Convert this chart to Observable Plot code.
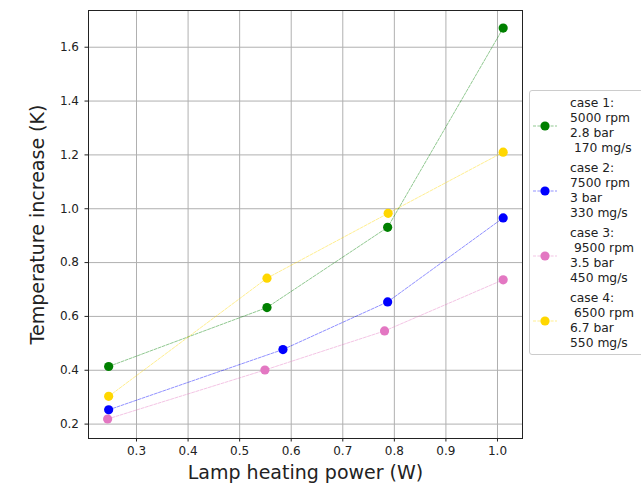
<!DOCTYPE html>
<html>
<head>
<meta charset="utf-8">
<script src="https://cdn.jsdelivr.net/npm/d3@7"></script>
<script src="https://cdn.jsdelivr.net/npm/@observablehq/plot@0.6"></script>
<style>
  html, body { margin: 0; padding: 0; background: white; overflow: hidden; }
  #wrap { position: relative; width: 641px; height: 484px; }
  #legend {
    position: absolute; left: 529px; top: 90px; width: 130px; height: 265px;
    border: 1px solid #cccccc; border-radius: 3px; background: rgba(255,255,255,0.85);
    font-family: "DejaVu Sans"; font-size: 12.3px; color: #222; box-sizing: border-box;
  }
  .entry { position: absolute; left: 0; height: 60px; width: 130px; }
  .entry svg { position: absolute; left: 2px; }
  .entry .txt { position: absolute; left: 40px; top: 0; white-space: pre; line-height: 15px; }
</style>
</head>
<body>
<div id="wrap"></div>
<script>
const cases = ["case 1", "case 2", "case 3", "case 4"];
const legendLabels = [
  "case 1:\n5000 rpm\n2.8 bar\n 170 mg/s",
  "case 2:\n7500 rpm\n3 bar\n330 mg/s",
  "case 3:\n 9500 rpm\n3.5 bar\n450 mg/s",
  "case 4:\n 6500 rpm\n6.7 bar\n550 mg/s"
];
const colors = ["green", "blue", "#e377c2", "gold"];

const power1 = [0.246, 0.553, 0.787, 1.011];
const temp1  = [0.414, 0.633, 0.931, 1.671];
const power2 = [0.246, 0.584, 0.787, 1.011];
const temp2  = [0.253, 0.477, 0.654, 0.966];
const power3 = [0.244, 0.549, 0.781, 1.011];
const temp3  = [0.219, 0.401, 0.546, 0.736];
const power4 = [0.246, 0.553, 0.788, 1.011];
const temp4  = [0.303, 0.742, 0.983, 1.210];

const xTicks = [0.3, 0.4, 0.5, 0.6, 0.7, 0.8, 0.9, 1.0];
const yTicks = [0.2, 0.4, 0.6, 0.8, 1.0, 1.2, 1.4, 1.6];

const powers = [power1, power2, power3, power4];
const temps = [temp1, temp2, temp3, temp4];
const rows = [];
cases.forEach((c, i) => powers[i].forEach((p, j) => rows.push({case: c, power: p, temp: temps[i][j]})));

const chart = Plot.plot({
  width: 641, height: 484,
  marginLeft: 88, marginRight: 119, marginTop: 10, marginBottom: 46,
  style: {fontFamily: "DejaVu Sans", fontSize: "12px", background: "white", color: "#222"},
  x: {domain: [0.2069, 1.0485], label: null},
  y: {domain: [0.1465, 1.7364], label: null},
  color: {domain: cases, range: colors},
  marks: [
    Plot.gridX(xTicks, {stroke: "#b0b0b0", strokeOpacity: 1, strokeWidth: 1}),
    Plot.gridY(yTicks, {stroke: "#b0b0b0", strokeOpacity: 1, strokeWidth: 1}),
    Plot.line(rows, {x: "power", y: "temp", z: "case", stroke: "case", strokeWidth: 0.8, strokeOpacity: 0.55, strokeDasharray: "3,1.4"}),
    Plot.dot(rows, {x: "power", y: "temp", fill: "case", r: 4.6, stroke: null}),
    Plot.frame({stroke: "#222", strokeWidth: 1}),
    Plot.axisX(xTicks, {tickFormat: d => d.toFixed(1), tickSize: 3.5, tickPadding: 4, label: null, fontSize: 12}),
    Plot.axisY(yTicks, {tickFormat: d => d.toFixed(1), tickSize: 3.5, tickPadding: 6, label: null, fontSize: 12}),
    Plot.axisX({ticks: [], tickSize: 0, label: "Lamp heating power (W)", labelAnchor: "center", labelArrow: "none", labelOffset: 40, fontSize: 19}),
    Plot.axisY({ticks: [], tickSize: 0, label: "Temperature increase (K)", labelAnchor: "center", labelArrow: "none", labelOffset: 58, fontSize: 19})
  ]
});

const wrap = document.getElementById("wrap");
wrap.appendChild(chart);

const legend = document.createElement("div");
legend.id = "legend";
wrap.appendChild(legend);
legendLabels.forEach((lab, i) => {
  const e = document.createElement("div");
  e.className = "entry";
  e.style.top = (5 + i * 65) + "px";
  e.innerHTML = `<svg width="26" height="12" style="top:24px">
      <line x1="1" y1="6" x2="25" y2="6" stroke="${colors[i]}" stroke-width="0.8" stroke-opacity="0.55" stroke-dasharray="3,1.4"/>
      <circle cx="13" cy="6" r="4.6" fill="${colors[i]}"/></svg>`;
  const t = document.createElement("div");
  t.className = "txt";
  t.textContent = lab;
  e.appendChild(t);
  legend.appendChild(e);
});
</script>
</body>
</html>
